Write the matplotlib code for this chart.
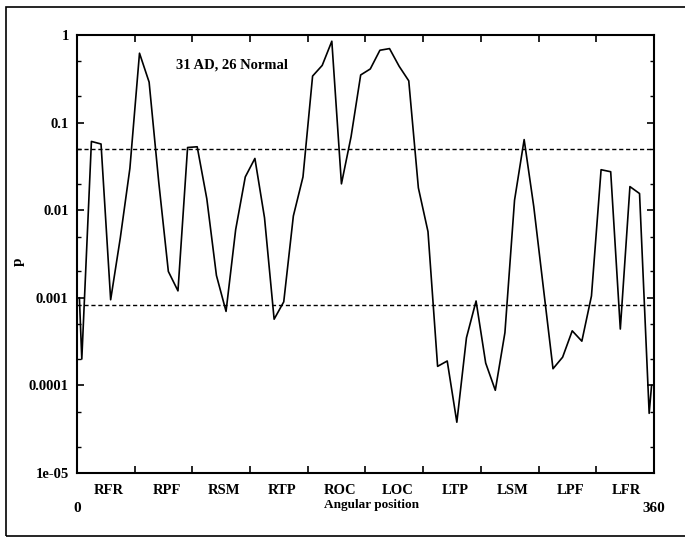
import matplotlib
matplotlib.use("Agg")
import matplotlib.pyplot as plt
import matplotlib.patches as patches
from matplotlib.ticker import LogLocator, NullFormatter

# angular position (degrees) and p value
angles = [1.5, 3, 9, 15, 21, 27, 33, 39, 45, 51, 57, 63, 69, 75, 81, 87,
          93, 99, 105, 111, 117, 123, 129, 135, 141, 147, 153, 159, 165,
          171, 177, 183, 189, 195, 201, 207, 213, 219, 225, 231, 237, 243,
          249, 255, 261, 267, 273, 279, 285, 291, 297, 303, 309, 315, 321,
          327, 333, 339, 345, 351, 357, 358.5]
p_values = [0.001, 0.0002, 0.061, 0.057, 0.00095, 0.0048, 0.03, 0.62, 0.29,
            0.021, 0.002, 0.0012, 0.052, 0.053, 0.0135, 0.0018, 0.0007,
            0.006, 0.024, 0.039, 0.0082, 0.00057, 0.0009, 0.0086, 0.024,
            0.34, 0.45, 0.85, 0.02, 0.069, 0.35, 0.41, 0.67, 0.70, 0.44,
            0.30, 0.018, 0.0057, 0.000165, 0.00019, 3.8e-5, 0.00035,
            0.00092, 0.00018, 8.8e-5, 0.0004, 0.013, 0.064, 0.011, 0.0013,
            0.000155, 0.00021, 0.00042, 0.00032, 0.00105, 0.029, 0.0275,
            0.00044, 0.0186, 0.0155, 4.8e-5, 0.0001]

# significance levels (uncorrected and Bonferroni for 60 positions)
thresholds = [0.05, 0.05 / 60]

regions = ['RFR', 'RPF', 'RSM', 'RTP', 'ROC', 'LOC', 'LTP', 'LSM', 'LPF', 'LFR']
region_centres = [20, 56, 92, 128, 164, 200, 236, 272, 308, 343]
region_edges = [0, 36, 72, 108, 144, 180, 216, 252, 288, 324, 360]

y_ticks = [1e-5, 1e-4, 1e-3, 1e-2, 1e-1, 1]
y_labels = ['1e-05', '0.0001', '0.001', '0.01', '0.1', '1']

plt.rcParams['font.family'] = ['Liberation Serif', 'DejaVu Serif']
plt.rcParams['font.weight'] = 'bold'

fig = plt.figure(figsize=(6.85, 5.38), dpi=100)
ax = fig.add_axes([0.1124, 0.1208, 0.8423, 0.8141])

ax.plot(angles, p_values, color='black', linewidth=1.2)
for t in thresholds:
    ax.axhline(t, color='black', linewidth=1.0, linestyle=(0, (3, 2)))

ax.set_yscale('log')
ax.set_xlim(0, 360)
ax.set_ylim(1e-5, 1)

ax.set_yticks(y_ticks)
ax.set_yticklabels(y_labels)
ax.yaxis.set_minor_locator(LogLocator(base=10, subs=(2, 5)))
ax.yaxis.set_minor_formatter(NullFormatter())

ax.set_xticks(region_edges)
ax.set_xticklabels([])
ax.set_xticks(region_centres, minor=True)
ax.set_xticklabels(regions, minor=True)

ax.tick_params(axis='both', which='major', direction='in', length=5,
               width=1.2, top=True, right=True, labelsize=10.5)
ax.tick_params(axis='y', which='minor', direction='in', length=3,
               width=1.0, right=True)
ax.tick_params(axis='x', which='minor', length=0, pad=8, labelsize=10.5)
ax.tick_params(axis='y', which='major', pad=6)

for side in ax.spines.values():
    side.set_linewidth(1.5)

ax.text(97, 0.45, '31 AD, 26 Normal', ha='center', va='center', fontsize=10.5)

fig.text(18 / 685, 1 - 262 / 538, 'p', rotation=90, ha='center',
         va='center', fontsize=11)
fig.text(0.1124, 0.055, '0', ha='center', va='center', fontsize=11)
fig.text(0.9547, 0.055, '360', ha='center', va='center', fontsize=11)
fig.text(371 / 685, 0.061, 'Angular position', ha='center', va='center',
         fontsize=9.5)

# outer frame of the figure (its right edge lies beyond the image)
frame = patches.Rectangle((6 / 685, 2 / 538), 1.0, 529 / 538,
                          transform=fig.transFigure, fill=False,
                          edgecolor='black', linewidth=1.2, clip_on=False)
fig.patches.append(frame)

fig.savefig('out.png', dpi=100)
